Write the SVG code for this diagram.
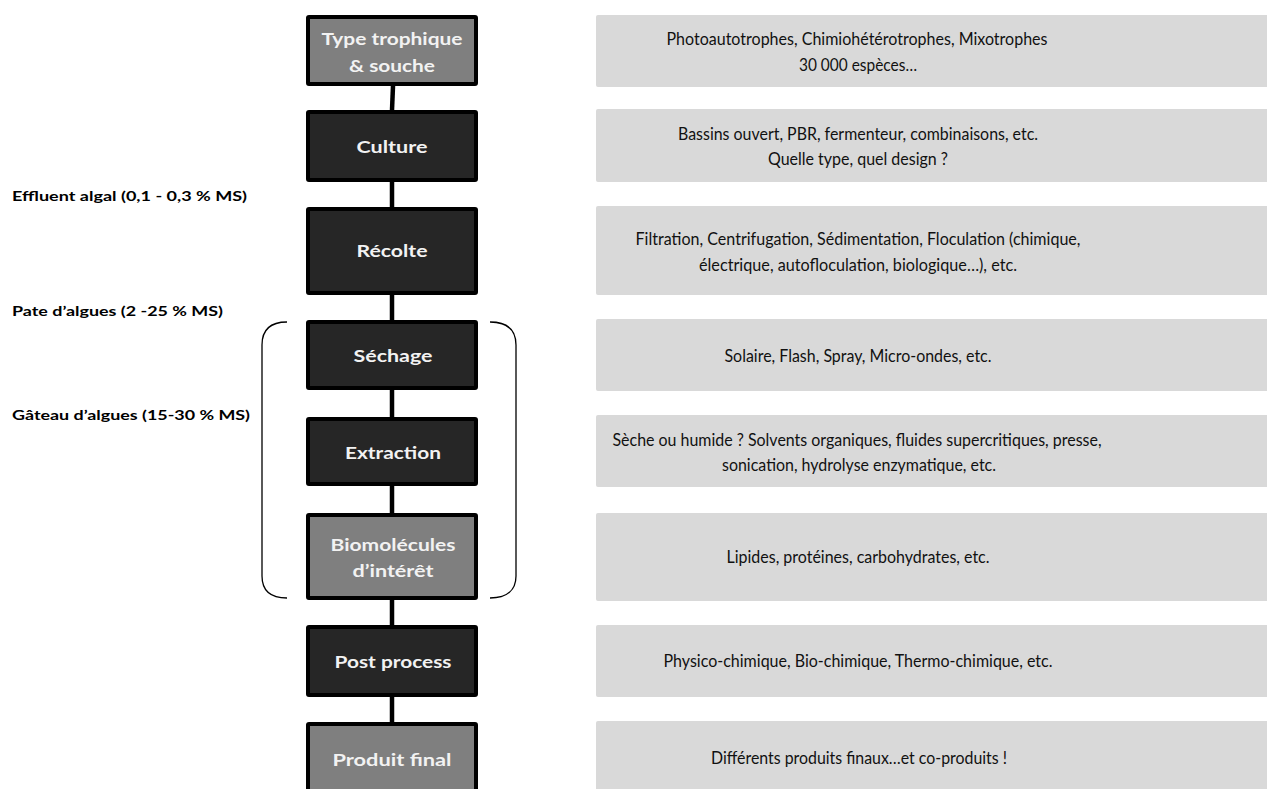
<svg xmlns="http://www.w3.org/2000/svg" width="1267" height="789" viewBox="0 0 1267 789">
<style>
.step rect{stroke:#000;stroke-width:4}
.dark{fill:#262626}
.mid{fill:#7f7f7f}
.st{font-family:Lato,"Open Sans",sans-serif;font-weight:bold;font-size:17px;fill:#f2f2f2;text-anchor:middle}
.info rect{fill:#d9d9d9}
.it{font-family:Lato,"Open Sans",sans-serif;font-size:17px;fill:#111;text-anchor:middle}
.lab{font-family:Lato,"Open Sans",sans-serif;font-weight:bold;font-size:14px;fill:#000}
.conn line{stroke:#000;stroke-width:4.5}
.br{fill:none;stroke:#000;stroke-width:1.3}
</style>
<rect width="1267" height="789" fill="#fff"/>
<g id="connectors" class="conn">
<line x1="393" y1="86" x2="392" y2="110"/>
<line x1="392" y1="182" x2="392" y2="207"/>
<line x1="392" y1="295" x2="392" y2="320"/>
<line x1="392" y1="390" x2="392" y2="417"/>
<line x1="392" y1="486" x2="392" y2="513"/>
<line x1="392" y1="600" x2="392" y2="625"/>
<line x1="392" y1="697" x2="392" y2="722"/>
</g>
<g id="brackets">
<path class="br" d="M287,322 C270,322 262,330 262,345 L262,576 C262,590 270,598 287,598"/>
<path class="br" d="M490,322 C507,322 516,330 516,345 L516,576 C516,590 507,598 490,598"/>
</g>
<g id="labels">
<text class="lab" x="12" y="201" textLength="235" lengthAdjust="spacingAndGlyphs">Effluent algal (0,1 - 0,3 % MS)</text>
<text class="lab" x="12" y="316" textLength="211" lengthAdjust="spacingAndGlyphs">Pate d’algues (2 -25 % MS)</text>
<text class="lab" x="12" y="420" textLength="238" lengthAdjust="spacingAndGlyphs">Gâteau d’algues (15-30 % MS)</text>
</g>
<g id="n-type" class="step"><rect class="mid" x="308" y="17" width="168" height="67" rx="1"/>
<text class="st" x="392" y="45" textLength="141" lengthAdjust="spacingAndGlyphs">Type trophique</text>
<text class="st" x="392" y="72" textLength="86" lengthAdjust="spacingAndGlyphs">&amp; souche</text></g>
<g id="n-culture" class="step"><rect class="dark" x="308" y="112" width="168" height="68" rx="1"/>
<text class="st" x="392" y="153" textLength="71" lengthAdjust="spacingAndGlyphs">Culture</text></g>
<g id="n-recolte" class="step"><rect class="dark" x="308" y="209" width="168" height="84" rx="1"/>
<text class="st" x="392" y="257" textLength="71" lengthAdjust="spacingAndGlyphs">Récolte</text></g>
<g id="n-sechage" class="step"><rect class="dark" x="308" y="322" width="168" height="66" rx="1"/>
<text class="st" x="393" y="362" textLength="79" lengthAdjust="spacingAndGlyphs">Séchage</text></g>
<g id="n-extraction" class="step"><rect class="dark" x="308" y="419" width="168" height="65" rx="1"/>
<text class="st" x="393" y="459" textLength="96" lengthAdjust="spacingAndGlyphs">Extraction</text></g>
<g id="n-biomol" class="step"><rect class="mid" x="308" y="515" width="168" height="83" rx="1"/>
<text class="st" x="393" y="551" textLength="125" lengthAdjust="spacingAndGlyphs">Biomolécules</text>
<text class="st" x="393" y="577" textLength="81" lengthAdjust="spacingAndGlyphs">d’intérêt</text></g>
<g id="n-post" class="step"><rect class="dark" x="308" y="627" width="168" height="68" rx="1"/>
<text class="st" x="393" y="668" textLength="117" lengthAdjust="spacingAndGlyphs">Post process</text></g>
<g id="n-produit" class="step"><rect class="mid" x="308" y="724" width="168" height="72" rx="1"/>
<text class="st" x="392" y="766" textLength="119" lengthAdjust="spacingAndGlyphs">Produit final</text></g>
<g id="i-type" class="info"><rect x="596" y="15" width="680" height="72" rx="2"/>
<text class="it" x="857" y="45" textLength="381" lengthAdjust="spacingAndGlyphs">Photoautotrophes,  Chimiohétérotrophes, Mixotrophes</text>
<text class="it" x="858" y="71" textLength="118" lengthAdjust="spacingAndGlyphs">30 000 espèces…</text></g>
<g id="i-culture" class="info"><rect x="596" y="109" width="680" height="73" rx="2"/>
<text class="it" x="858" y="140" textLength="360" lengthAdjust="spacingAndGlyphs">Bassins ouvert, PBR, fermenteur, combinaisons, etc.</text>
<text class="it" x="858" y="165" textLength="180" lengthAdjust="spacingAndGlyphs">Quelle type, quel design ?</text></g>
<g id="i-recolte" class="info"><rect x="596" y="206" width="680" height="89" rx="2"/>
<text class="it" x="858" y="245" textLength="445" lengthAdjust="spacingAndGlyphs">Filtration, Centrifugation, Sédimentation, Floculation (chimique,</text>
<text class="it" x="858" y="271" textLength="318" lengthAdjust="spacingAndGlyphs">électrique, autofloculation, biologique…), etc.</text></g>
<g id="i-sechage" class="info"><rect x="596" y="319" width="680" height="72" rx="2"/>
<text class="it" x="858" y="362" textLength="267" lengthAdjust="spacingAndGlyphs">Solaire, Flash, Spray, Micro-ondes, etc.</text></g>
<g id="i-extraction" class="info"><rect x="596" y="415" width="680" height="72" rx="2"/>
<text class="it" x="857" y="446" textLength="489" lengthAdjust="spacingAndGlyphs">Sèche ou humide ? Solvents organiques, fluides supercritiques, presse,</text>
<text class="it" x="859" y="471" textLength="274" lengthAdjust="spacingAndGlyphs">sonication, hydrolyse enzymatique, etc.</text></g>
<g id="i-biomol" class="info"><rect x="596" y="513" width="680" height="88" rx="2"/>
<text class="it" x="858" y="563" textLength="263" lengthAdjust="spacingAndGlyphs">Lipides, protéines, carbohydrates, etc.</text></g>
<g id="i-post" class="info"><rect x="596" y="625" width="680" height="72" rx="2"/>
<text class="it" x="858" y="667" textLength="389" lengthAdjust="spacingAndGlyphs">Physico-chimique, Bio-chimique, Thermo-chimique, etc.</text></g>
<g id="i-produit" class="info"><rect x="596" y="721" width="680" height="74" rx="2"/>
<text class="it" x="859" y="764" textLength="296" lengthAdjust="spacingAndGlyphs">Différents produits finaux…et co-produits !</text></g>
</svg>
